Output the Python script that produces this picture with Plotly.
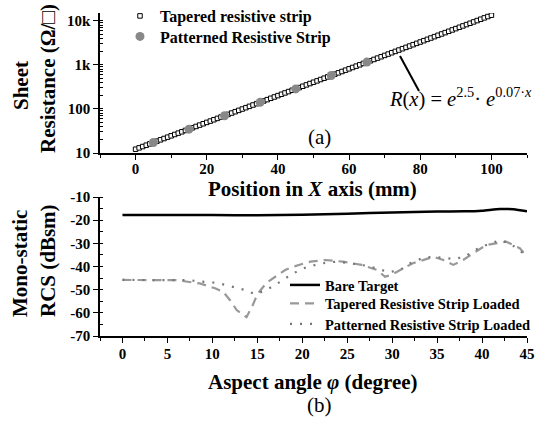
import plotly.graph_objects as go

# ---------------- data ----------------
# (a) Sheet resistance vs position
pos_tapered = list(range(0, 101))
res_tapered = [12.18, 13.07, 14.01, 15.03, 16.12, 17.29, 18.54, 19.89, 21.33, 22.87,
               24.53, 26.31, 28.22, 30.27, 32.46, 34.81, 37.34, 40.04, 42.95, 46.06,
               49.40, 52.98, 56.82, 60.94, 65.37, 70.11, 75.19, 80.64, 86.49, 92.76,
               99.48, 106.7, 114.4, 122.7, 131.6, 141.2, 151.4, 162.4, 174.2, 186.8,
               200.3, 214.9, 230.5, 247.2, 265.1, 284.3, 304.9, 327.0, 350.7, 376.2,
               403.4, 432.7, 464.1, 497.7, 533.8, 572.5, 614.0, 658.5, 706.3, 757.5,
               812.4, 871.3, 934.5, 1002, 1075, 1153, 1236, 1326, 1422, 1525,
               1636, 1755, 1882, 2018, 2165, 2322, 2490, 2670, 2864, 3072,
               3294, 3533, 3790, 4064, 4359, 4675, 5014, 5378, 5768, 6186,
               6634, 7115, 7631, 8185, 8778, 9414, 10097, 10829, 11614, 12456,
               13360]
pos_patterned = [5, 15, 25, 35, 45, 55, 65]
res_patterned = [17.3, 34.8, 70.1, 141.2, 284.3, 572.5, 1153]

# (b) Mono-static RCS vs aspect angle
ang_bare = [0, 5, 10, 15, 20, 25, 30, 35, 38, 40, 42, 43.5, 45]
rcs_bare = [-17.8, -17.8, -17.8, -17.9, -17.7, -17.2, -16.7, -16.3, -16.2, -15.9, -15.2, -15.3, -16.2]

ang_tapered = [0, 3, 6, 8.6, 10.3, 11.2, 12.1, 12.7, 13.8, 14.5, 15, 16, 17, 18.1, 19,
               20.9, 22.5, 24.5, 26.6, 28.3, 29.2, 29.9, 30.9, 32.3, 34.6, 35.7, 36.8,
               37.9, 39, 40.5, 42.7, 44.2, 45]
rcs_tapered = [-45.8, -45.8, -45.9, -47.3, -49.4, -50.9, -55.2, -58.8, -61.9, -56.6, -52.0,
               -47.1, -44.4, -41.5, -40.1, -37.9, -37.2, -37.9, -39.3, -41.5, -44.4, -43.7,
               -41.5, -38.6, -35.8, -37.2, -39.3, -37.2, -34.3, -30.7, -29.3, -32.1, -35.8]

ang_patterned = [0, 3, 6, 7.5, 8.6, 9.9, 11.2, 12.3, 13.6, 14.8, 16, 17.1, 18.4, 19.7,
                 20.6, 22.3, 23.8, 25.3, 27, 28.3, 29.6, 30.9, 32, 33.3, 34.4, 35.6,
                 36.8, 38.1, 39.2, 40.5, 42, 43.1, 44.4, 45]
rcs_patterned = [-45.8, -45.8, -45.8, -45.9, -46.5, -46.8, -47.7, -48.7, -50.1, -52.0,
                 -50.1, -47.7, -44.4, -41.5, -40.1, -38.6, -37.9, -38.6, -39.6, -40.8,
                 -42.5, -41.5, -38.6, -36.5, -35.8, -36.2, -36.8, -35.8, -32.9, -30.7,
                 -28.6, -30.0, -33.6, -35.5]

# tick labels
pos_ticks = [0, 20, 40, 60, 80, 100]
pos_ticktext = ["0", "20", "40", "60", "80", "100"]
res_tickvals = [10, 100, 1000, 10000]
res_ticktext = ["10", "100", "1k", "10k"]
ang_ticks = [0, 5, 10, 15, 20, 25, 30, 35, 40, 45]
ang_ticktext = ["0", "5", "10", "15", "20", "25", "30", "35", "40", "45"]
rcs_ticks = [-10, -20, -30, -40, -50, -60, -70]
rcs_ticktext = ["-10", "-20", "-30", "-40", "-50", "-60", "-70"]

# ---------------- figure ----------------
W, H = 537, 426
FONT = "Liberation Serif"


def px(x):
    return x / W


def py(y):
    return 1 - y / H


def bold(labels):
    return ["<b>%s</b>" % s for s in labels]


fig = go.Figure()

fig.add_trace(go.Scatter(
    x=pos_tapered, y=res_tapered, mode="markers", name="Tapered resistive strip",
    marker=dict(symbol="square", size=4.5, color="white", line=dict(color="black", width=1)),
    xaxis="x", yaxis="y", legend="legend"))
fig.add_trace(go.Scatter(
    x=pos_patterned, y=res_patterned, mode="markers", name="Patterned Resistive Strip",
    marker=dict(symbol="circle", size=9, color="#888888"),
    xaxis="x", yaxis="y", legend="legend2"))

fig.add_trace(go.Scatter(
    x=ang_bare, y=rcs_bare, mode="lines", name="Bare Target",
    line=dict(color="black", width=2.5, shape="spline", smoothing=0.6),
    xaxis="x2", yaxis="y2", legend="legend3"))
fig.add_trace(go.Scatter(
    x=ang_tapered, y=rcs_tapered, mode="lines", name="Tapered Resistive Strip Loaded",
    line=dict(color="#999999", width=2.2, dash="9px,6px"),
    xaxis="x2", yaxis="y2", legend="legend4"))
fig.add_trace(go.Scatter(
    x=ang_patterned, y=rcs_patterned, mode="lines", name="Patterned Resistive Strip Loaded",
    line=dict(color="#777777", width=2.2, dash="2px,8px"),
    xaxis="x2", yaxis="y2", legend="legend5"))


def axis(**kw):
    d = dict(showline=True, linecolor="black", linewidth=1.5, showgrid=False,
             zeroline=False, ticks="outside", ticklen=5, tickwidth=1.3,
             tickcolor="black", mirror=False,
             tickfont=dict(family=FONT, size=15, color="black", weight="bold"))
    d.update(kw)
    return d


def legend_at(xp, yp, size):
    return dict(x=px(xp), y=py(yp), xanchor="left", yanchor="middle",
                bgcolor="rgba(0,0,0,0)", borderwidth=0,
                font=dict(family=FONT, size=size, color="black", weight="bold"))


fig.update_layout(
    width=W, height=H, margin=dict(l=0, r=0, t=0, b=0, autoexpand=False),
    paper_bgcolor="white", plot_bgcolor="white",
    font=dict(family=FONT, size=15, color="black", weight="bold"),
    xaxis=axis(domain=[px(100), px(527)], range=[-10, 110], anchor="y",
               tickmode="array", tickvals=pos_ticks, ticktext=bold(pos_ticktext),
               ticklabelstandoff=-4,
               minor=dict(ticks="outside", ticklen=3, tickcolor="black", dtick=10, tick0=-10)),
    yaxis=axis(domain=[py(153), py(13)], type="log", range=[1, 4.176], anchor="x",
               tickmode="array", tickvals=res_tickvals, ticktext=bold(res_ticktext),
               minor=dict(ticks="inside", ticklen=3, tickcolor="black", dtick="D1")),
    xaxis2=axis(domain=[px(100), px(527)], range=[-2.5, 45], anchor="y2",
                tickmode="array", tickvals=ang_ticks, ticktext=bold(ang_ticktext),
                ticklabelstandoff=-2,
                minor=dict(ticks="outside", ticklen=3, tickcolor="black", dtick=2.5, tick0=0)),
    yaxis2=axis(domain=[py(336), py(197)], range=[-70, -10], anchor="x2",
                tickmode="array", tickvals=rcs_ticks, ticktext=bold(rcs_ticktext),
                minor=dict(ticks="inside", ticklen=3, tickcolor="black", dtick=5, tick0=-10)),
    legend=legend_at(120, 16, 16),
    legend2=legend_at(120, 36.5, 16),
    legend3=legend_at(285, 285, 14.5),
    legend4=legend_at(285, 303.5, 14.5),
    legend5=legend_at(285, 324, 14.5),
    showlegend=True,
)

title_font = dict(family=FONT, size=21, color="black", weight="bold")
plain_font = dict(family=FONT, size=21, color="black", weight="normal")

annotations = [
    dict(text="<b>Position in <i>X</i> axis (mm)</b>", x=px(312), y=py(189), font=title_font),
    dict(text="<b>Aspect angle <i>φ</i> (degree)</b>", x=px(313), y=py(382), font=title_font),
    dict(text="(a)", x=px(319), y=py(137), font=plain_font),
    dict(text="(b)", x=px(319), y=py(405), font=plain_font),
    dict(text="<b>Sheet</b>", x=px(21), y=py(86), textangle=-90, font=title_font),
    dict(text="<b>Resistance (Ω/□)</b>", x=px(48), y=py(79), textangle=-90, font=title_font),
    dict(text="<b>Mono-static</b>", x=px(20), y=py(264), textangle=-90, font=title_font),
    dict(text="<b>RCS (dBsm)</b>", x=px(48), y=py(261), textangle=-90, font=title_font),
    dict(text="<i>R</i>(<i>x</i>) = <i>e</i><sup>2.5</sup>· <i>e</i><sup>0.07·<i>x</i></sup>",
         x=px(387), y=py(97), xanchor="left",
         font=dict(family=FONT, size=20.5, color="black", weight="normal")),
]
for a in annotations:
    a.setdefault("xanchor", "center")
    a.update(xref="paper", yref="paper", yanchor="middle", showarrow=False)
fig.update_layout(annotations=annotations)

fig.add_shape(type="line", xref="paper", yref="paper",
              x0=px(400), y0=py(56), x1=px(419), y1=py(91),
              line=dict(color="black", width=2))

fig.write_html("out.html")
